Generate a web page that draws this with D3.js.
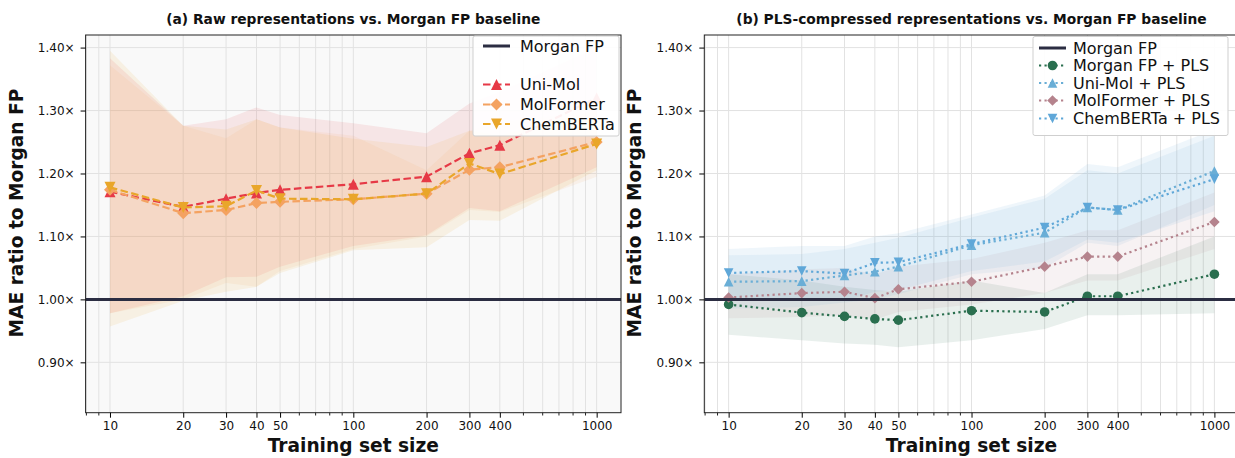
<!DOCTYPE html>
<html>
<head>
<meta charset="utf-8">
<script src="https://cdn.jsdelivr.net/npm/d3@7"></script>
<style>
  body { margin: 0; background: #fff; }
  text { font-family: "DejaVu Sans", sans-serif; fill: #111; }
</style>
</head>
<body>
<div id="chart"></div>
<script>
// training set sizes and tick values
var sizes = [10, 20, 30, 40, 50, 100, 200, 300, 400, 1000];
var xTickValues = [10, 20, 30, 40, 50, 100, 200, 300, 400, 1000];
var xMinorValues = [8, 9, 60, 70, 80, 90, 500, 600, 700, 800, 900];
var yTickValues = [0.9, 1.0, 1.1, 1.2, 1.3, 1.4];

// (a) raw representations: mean ratio and band edges
var uniMol     = [1.171, 1.147, 1.160, 1.169, 1.174, 1.183, 1.195, 1.232, 1.245, 1.320];
var uniMolLo   = [0.978, 1.005, 1.035, 1.036, 1.052, 1.085, 1.102, 1.145, 1.140, 1.210];
var uniMolHi   = [1.383, 1.276, 1.286, 1.305, 1.293, 1.280, 1.264, 1.311, 1.330, 1.400];
var molFormer   = [1.174, 1.137, 1.142, 1.153, 1.155, 1.159, 1.168, 1.206, 1.210, 1.250];
var molFormerLo = [0.978, 1.000, 1.026, 1.020, 1.045, 1.080, 1.100, 1.142, 1.139, 1.195];
var molFormerHi = [1.372, 1.276, 1.256, 1.286, 1.273, 1.260, 1.205, 1.268, 1.280, 1.300];
var chemBerta   = [1.178, 1.146, 1.148, 1.173, 1.160, 1.159, 1.168, 1.216, 1.199, 1.247];
var chemBertaLo = [0.957, 0.998, 1.012, 1.020, 1.042, 1.078, 1.083, 1.126, 1.125, 1.205];
var chemBertaHi = [1.395, 1.276, 1.270, 1.286, 1.273, 1.255, 1.242, 1.268, 1.260, 1.300];

// (b) PLS-compressed representations
var morganPls     = [0.992, 0.979, 0.973, 0.969, 0.967, 0.982, 0.980, 1.005, 1.005, 1.040];
var morganPlsLo   = [0.944, 0.935, 0.930, 0.928, 0.924, 0.935, 0.953, 0.975, 0.975, 0.978];
var morganPlsHi   = [1.040, 1.030, 1.020, 1.015, 1.012, 1.030, 1.010, 1.040, 1.040, 1.100];
var uniMolPls     = [1.028, 1.029, 1.038, 1.044, 1.052, 1.086, 1.106, 1.146, 1.142, 1.204];
var uniMolPlsLo   = [0.985, 0.988, 0.995, 1.000, 1.008, 1.040, 1.050, 1.090, 1.085, 1.150];
var uniMolPlsHi   = [1.070, 1.072, 1.080, 1.090, 1.098, 1.130, 1.160, 1.205, 1.200, 1.260];
var molFormerPls   = [1.003, 1.010, 1.012, 1.002, 1.016, 1.028, 1.052, 1.068, 1.068, 1.123];
var molFormerPlsLo = [0.970, 0.972, 0.975, 0.968, 0.980, 0.992, 1.010, 1.030, 1.030, 1.080];
var molFormerPlsHi = [1.040, 1.048, 1.050, 1.040, 1.052, 1.064, 1.090, 1.110, 1.110, 1.170];
var chemBertaPls   = [1.042, 1.045, 1.041, 1.058, 1.059, 1.088, 1.114, 1.146, 1.142, 1.191];
var chemBertaPlsLo = [0.998, 1.000, 0.998, 1.012, 1.015, 1.045, 1.060, 1.095, 1.090, 1.140];
var chemBertaPlsHi = [1.080, 1.085, 1.085, 1.100, 1.105, 1.135, 1.165, 1.215, 1.210, 1.270];

var baseline = 1.0;

var W = 1235, H = 458;
var svg = d3.select("#chart").append("svg")
    .attr("width", W)
    .attr("height", H);

// marker shapes, r = half size
function markerPath(shape, r) {
    if (shape == "up") return "M0," + (-r) + "L" + r + "," + r + "L" + (-r) + "," + r + "Z";
    if (shape == "down") return "M0," + r + "L" + r + "," + (-r) + "L" + (-r) + "," + (-r) + "Z";
    if (shape == "diamond") return "M0," + (-r) + "L" + r + ",0L0," + r + "L" + (-r) + ",0Z";
    return d3.symbol().type(d3.symbolCircle).size(Math.PI * r * r)();
}

function drawPanel(p) {
    var x = d3.scaleLog().domain([7.94, 1259]).range([p.left, p.right]);
    var y = d3.scaleLinear().domain([0.82, 1.42]).range([412.7, 35]);

    var g = svg.append("g");
    var clipId = "clip" + p.id;
    g.append("clipPath").attr("id", clipId)
        .append("rect")
        .attr("x", p.left).attr("y", 35)
        .attr("width", p.right - p.left).attr("height", 412.7 - 35);

    g.append("rect")
        .attr("x", p.left).attr("y", 35)
        .attr("width", p.right - p.left).attr("height", 412.7 - 35)
        .attr("fill", p.bg);

    // grid lines
    g.selectAll(".vgrid")
        .data(xTickValues.concat(xMinorValues))
        .enter().append("line")
        .attr("x1", function (d) { return x(d); })
        .attr("x2", function (d) { return x(d); })
        .attr("y1", 35).attr("y2", 412.7)
        .attr("stroke", "#e2e2e2").attr("stroke-width", 1);
    g.selectAll(".hgrid")
        .data(yTickValues)
        .enter().append("line")
        .attr("x1", p.left).attr("x2", p.right)
        .attr("y1", function (d) { return y(d); })
        .attr("y2", function (d) { return y(d); })
        .attr("stroke", "#e2e2e2").attr("stroke-width", 1);

    var plot = g.append("g").attr("clip-path", "url(#" + clipId + ")");

    // shaded bands
    p.series.forEach(function (s) {
        var area = d3.area()
            .x(function (d, i) { return x(sizes[i]); })
            .y0(function (d, i) { return y(s.lo[i]); })
            .y1(function (d, i) { return y(s.hi[i]); });
        plot.append("path")
            .datum(s.values)
            .attr("d", area)
            .attr("fill", s.color)
            .attr("fill-opacity", s.bandOpacity);
    });

    // lines + markers
    p.series.forEach(function (s) {
        var line = d3.line()
            .x(function (d, i) { return x(sizes[i]); })
            .y(function (d) { return y(d); });
        plot.append("path")
            .datum(s.values)
            .attr("d", line)
            .attr("fill", "none")
            .attr("stroke", s.color)
            .attr("stroke-width", p.lineWidth)
            .attr("stroke-dasharray", p.dash);
        plot.selectAll(null)
            .data(s.values)
            .enter().append("path")
            .attr("transform", function (d, i) { return "translate(" + x(sizes[i]) + "," + y(d) + ")"; })
            .attr("d", markerPath(s.shape, s.r))
            .attr("fill", s.color);
    });

    // Morgan FP baseline
    plot.append("line")
        .attr("x1", p.left).attr("x2", p.right)
        .attr("y1", y(baseline)).attr("y2", y(baseline))
        .attr("stroke", "#2b2d42").attr("stroke-width", 3);

    // frame
    g.append("rect")
        .attr("x", p.left).attr("y", 35)
        .attr("width", p.right - p.left).attr("height", 412.7 - 35)
        .attr("fill", "none").attr("stroke", "#222").attr("stroke-width", 1);

    // y axis
    var yAxis = g.append("g")
        .attr("transform", "translate(" + p.left + ",0)")
        .call(d3.axisLeft(y).tickValues(yTickValues).tickSize(5).tickPadding(6)
            .tickFormat(function (d) { return d3.format(".2f")(d) + "\u00d7"; }));
    yAxis.select(".domain").remove();
    yAxis.selectAll("text").style("font-size", "12px").attr("fill", "#222");

    // x axis (major + minor ticks)
    var xAxis = g.append("g")
        .attr("transform", "translate(0,412.7)")
        .call(d3.axisBottom(x).tickValues(xTickValues).tickSize(5).tickPadding(4)
            .tickFormat(d3.format("d")));
    xAxis.select(".domain").remove();
    xAxis.selectAll("text").style("font-size", "12px").attr("fill", "#222");
    g.selectAll(".minor")
        .data(xMinorValues)
        .enter().append("line")
        .attr("x1", function (d) { return x(d); })
        .attr("x2", function (d) { return x(d); })
        .attr("y1", 412.7).attr("y2", 415.5)
        .attr("stroke", "#222");

    // titles and labels
    var cx = (p.left + p.right) / 2;
    g.append("text")
        .attr("x", cx).attr("y", 24)
        .attr("text-anchor", "middle")
        .style("font-size", "13.8px").style("font-weight", "bold")
        .text(p.title);
    g.append("text")
        .attr("x", cx).attr("y", 451.5)
        .attr("text-anchor", "middle")
        .style("font-size", "18.6px").style("font-weight", "bold")
        .text("Training set size");
    g.append("text")
        .attr("transform", "translate(" + (p.left - 63) + ",213) rotate(-90)")
        .attr("text-anchor", "middle")
        .style("font-size", "18.6px").style("font-weight", "bold")
        .text("MAE ratio to Morgan FP");

    // legend
    var L = p.legend;
    var lg = g.append("g");
    lg.append("rect")
        .attr("x", L.x).attr("y", L.y)
        .attr("width", L.w).attr("height", L.h)
        .attr("rx", 2)
        .attr("fill", "#fff").attr("fill-opacity", 0.93)
        .attr("stroke", "#cfcfcf");
    L.items.forEach(function (it) {
        var hx = L.x + L.handle;
        if (it.kind == "base") {
            lg.append("line")
                .attr("x1", hx).attr("x2", hx + 27)
                .attr("y1", it.y).attr("y2", it.y)
                .attr("stroke", "#2b2d42").attr("stroke-width", 3);
        } else {
            lg.append("line")
                .attr("x1", hx).attr("x2", hx + 27)
                .attr("y1", it.y).attr("y2", it.y)
                .attr("stroke", it.s.color).attr("stroke-width", p.lineWidth)
                .attr("stroke-dasharray", p.dash);
            lg.append("path")
                .attr("transform", "translate(" + (hx + 13.5) + "," + it.y + ")")
                .attr("d", markerPath(it.s.shape, it.s.r))
                .attr("fill", it.s.color);
        }
        lg.append("text")
            .attr("x", L.x + L.text).attr("y", it.y)
            .attr("dy", "0.35em")
            .style("font-size", "16px")
            .text(it.label);
    });
}

// series definitions
var sUni = { values: uniMol, lo: uniMolLo, hi: uniMolHi, color: "#e63946", shape: "up", r: 5.5, bandOpacity: 0.1 };
var sMol = { values: molFormer, lo: molFormerLo, hi: molFormerHi, color: "#f4a261", shape: "diamond", r: 6, bandOpacity: 0.1 };
var sChem = { values: chemBerta, lo: chemBertaLo, hi: chemBertaHi, color: "#e9a62a", shape: "down", r: 5.5, bandOpacity: 0.1 };

var sMorganPls = { values: morganPls, lo: morganPlsLo, hi: morganPlsHi, color: "#2a6f4f", shape: "circle", r: 4.8, bandOpacity: 0.1 };
var sUniPls = { values: uniMolPls, lo: uniMolPlsLo, hi: uniMolPlsHi, color: "#6aaed6", shape: "up", r: 4.8, bandOpacity: 0.1 };
var sMolPls = { values: molFormerPls, lo: molFormerPlsLo, hi: molFormerPlsHi, color: "#b5838d", shape: "diamond", r: 5.3, bandOpacity: 0.1 };
var sChemPls = { values: chemBertaPls, lo: chemBertaPlsLo, hi: chemBertaPlsHi, color: "#5fa7d8", shape: "down", r: 4.8, bandOpacity: 0.1 };

drawPanel({
    id: "a", left: 85.6, right: 621, bg: "#f9f9f9",
    title: "(a) Raw representations vs. Morgan FP baseline",
    lineWidth: 2.2, dash: "7.5,3.5",
    series: [sUni, sMol, sChem],
    legend: {
        x: 473, y: 36, w: 146, h: 100, handle: 10, text: 47,
        items: [
            { kind: "base", label: "Morgan FP", y: 46 },
            { s: sUni, label: "Uni-Mol", y: 84.5 },
            { s: sMol, label: "MolFormer", y: 104.5 },
            { s: sChem, label: "ChemBERTa", y: 124 }
        ]
    }
});

drawPanel({
    id: "b", left: 704.3, right: 1238.7, bg: "#ffffff",
    title: "(b) PLS-compressed representations vs. Morgan FP baseline",
    lineWidth: 2.2, dash: "2.2,3.3",
    series: [sMorganPls, sUniPls, sMolPls, sChemPls],
    legend: {
        x: 1033, y: 36.5, w: 195, h: 99, handle: 6, text: 40,
        items: [
            { kind: "base", label: "Morgan FP", y: 48 },
            { s: sMorganPls, label: "Morgan FP + PLS", y: 65.5 },
            { s: sUniPls, label: "Uni-Mol + PLS", y: 83 },
            { s: sMolPls, label: "MolFormer + PLS", y: 100.5 },
            { s: sChemPls, label: "ChemBERTa + PLS", y: 118.5 }
        ]
    }
});
</script>
</body>
</html>
